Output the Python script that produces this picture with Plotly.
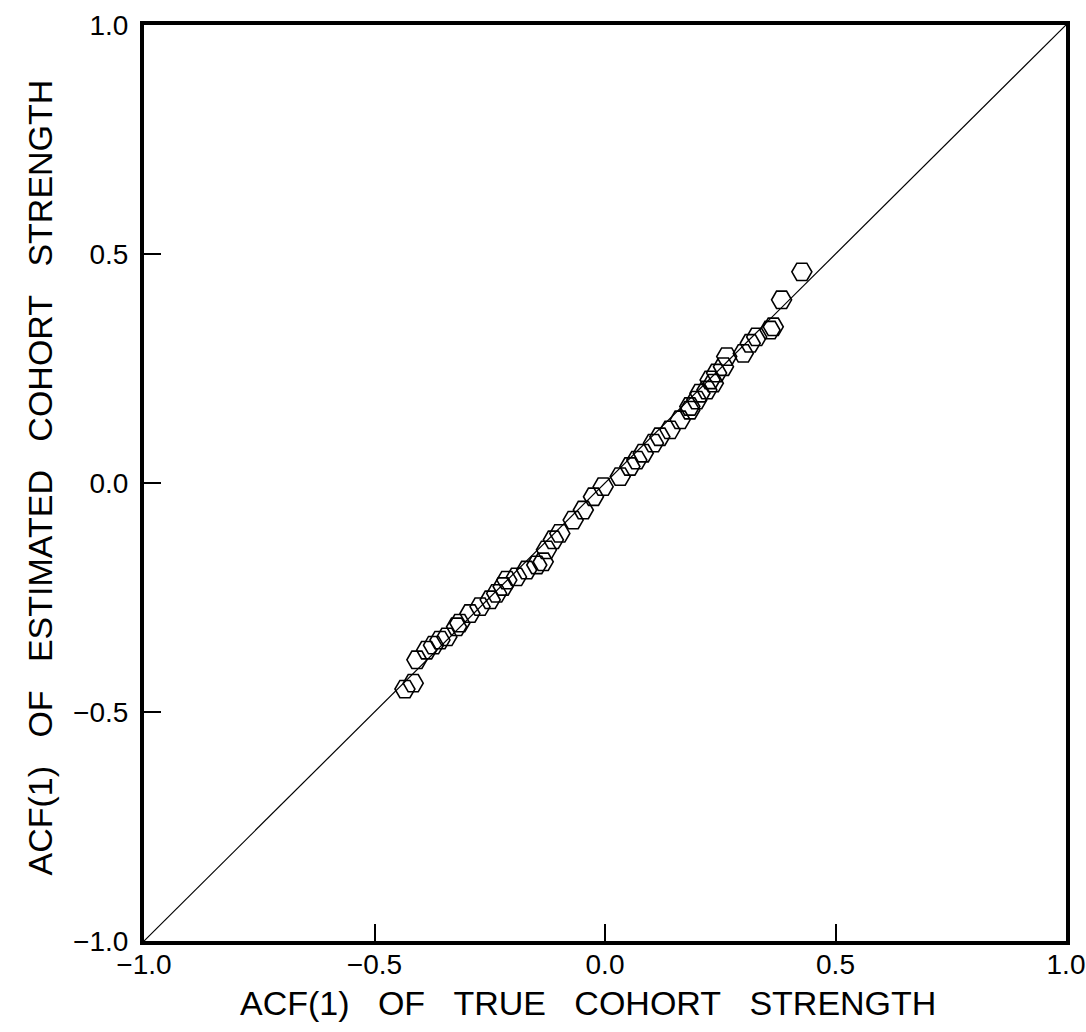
import plotly.graph_objects as go

true_acf = [-0.434, -0.416, -0.408, -0.387, -0.372, -0.358, -0.343, -0.322, -0.315, -0.293,
            -0.271, -0.249, -0.235, -0.221, -0.213, -0.192, -0.170, -0.148, -0.134, -0.127,
            -0.112, -0.098, -0.069, -0.047, -0.025, -0.004, 0.033, 0.054, 0.069, 0.083,
            0.105, 0.119, 0.141, 0.163, 0.184, 0.199, 0.221, 0.235, 0.184, 0.206,
            0.228, 0.242, 0.257, 0.264, 0.300, 0.315, 0.329, 0.358, 0.365, 0.383, 0.427]
est_acf = [-0.450, -0.437, -0.386, -0.365, -0.354, -0.343, -0.336, -0.314, -0.306, -0.285,
           -0.270, -0.255, -0.241, -0.226, -0.212, -0.205, -0.190, -0.179, -0.172, -0.146,
           -0.124, -0.110, -0.081, -0.059, -0.030, -0.008, 0.014, 0.036, 0.050, 0.065,
           0.087, 0.101, 0.116, 0.138, 0.159, 0.181, 0.203, 0.218, 0.167, 0.196,
           0.225, 0.240, 0.254, 0.276, 0.283, 0.305, 0.319, 0.334, 0.341, 0.400, 0.461]

diag = [-1.0, 1.0]
tick_vals = [-1.0, -0.5, 0.0, 0.5, 1.0]
tick_text = ["\u22121.0", "\u22120.5", "0.0", "0.5", "1.0"]

x_title = "ACF(1)&nbsp;&nbsp;&nbsp;OF&nbsp;&nbsp;&nbsp;TRUE&nbsp;&nbsp;&nbsp;COHORT&nbsp;&nbsp;&nbsp;STRENGTH"
y_title = "ACF(1)&nbsp;&nbsp;&nbsp;OF&nbsp;&nbsp;&nbsp;ESTIMATED&nbsp;&nbsp;&nbsp;COHORT&nbsp;&nbsp;&nbsp;STRENGTH"

font_family = "Liberation Sans, Arial, sans-serif"

fig = go.Figure()
fig.add_trace(go.Scatter(x=diag, y=diag, mode="lines",
                         line=dict(color="black", width=1.2), showlegend=False, hoverinfo="skip"))
fig.add_trace(go.Scatter(x=true_acf, y=est_acf, mode="markers",
                         marker=dict(symbol="hexagon2-open", size=20,
                                     line=dict(color="black", width=1.6), color="black"),
                         showlegend=False))

axis_common = dict(range=[-1, 1], tickvals=tick_vals, ticktext=tick_text,
                   showgrid=False, zeroline=False, showline=True, linecolor="black",
                   linewidth=4, mirror=True, ticks="inside", ticklen=17, tickwidth=2,
                   tickcolor="black", automargin=False,
                   tickfont=dict(family=font_family, size=28, color="black"))

fig.update_layout(
    width=1086, height=1032,
    margin=dict(l=144, r=20, t=25, b=91),
    paper_bgcolor="white", plot_bgcolor="white",
    xaxis=dict(**axis_common, ticklabelstandoff=-5),
    yaxis=dict(**axis_common, ticklabelstandoff=6),
    annotations=[
        dict(text=x_title, xref="paper", yref="paper", x=0.4816, y=-0.0677,
             xanchor="center", yanchor="middle", showarrow=False,
             font=dict(family=font_family, size=34, color="black")),
        dict(text=y_title, xref="paper", yref="paper", x=-0.1128, y=0.506,
             xanchor="center", yanchor="middle", textangle=-90, showarrow=False,
             font=dict(family=font_family, size=34, color="black")),
    ],
)

fig.write_html("out.html")
